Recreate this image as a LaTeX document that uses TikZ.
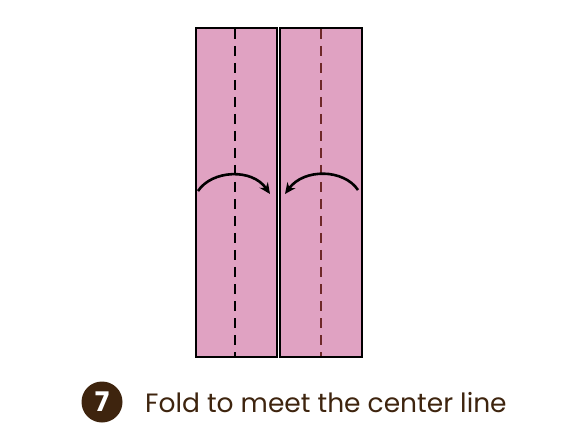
\documentclass[tikz,border=0pt]{standalone}
\usepackage{fontspec}
\setmainfont{Poppins}
\usepackage{tikz}
\usetikzlibrary{arrows.meta, positioning}
\definecolor{paper}{RGB}{224,162,194}
\definecolor{stepbrown}{RGB}{62,36,14}
\definecolor{creasered}{RGB}{110,40,40}

\begin{document}
\begin{tikzpicture}[
    x=1pt, y=-1pt,
    panel/.style={draw=black, line width=2pt, fill=paper},
    crease/.style={dash pattern=on 10pt off 7pt, line width=1.4pt},
    foldarrow/.style={-{Stealth[length=11pt, width=10pt]}, line width=2.6pt},
    badge/.style={circle, fill=stepbrown, minimum size=41pt, inner sep=0pt, text=white, font=\bfseries\fontsize{27}{27}\selectfont}
]
\useasboundingbox (0,0) rectangle (572,443);
% the two flaps
\draw[panel] (196,28) rectangle (276.5,357);
\draw[panel] (279.5,28) rectangle (362,357);
\draw[crease, draw=black] (235,29) -- (235,356);
\draw[crease, draw=creasered] (321,29) -- (321,356);
% fold arrows
\coordinate (lstart) at (198,191);
\coordinate (lend) at (270,194);
\coordinate (rstart) at (358,190);
\coordinate (rend) at (285,194);
\draw[foldarrow] (lstart) .. controls (212,170) and (252,168) .. (lend);
\draw[foldarrow] (rstart) .. controls (344,169) and (304,168) .. (rend);
% caption
\node[badge] (num) at (102,402) {7};
\node[anchor=west, text=stepbrown, font=\fontsize{26.5}{26.5}\selectfont, right=19pt of num, yshift=-1pt] (caption) {Fold to meet the center line};
\end{tikzpicture}
\end{document}
